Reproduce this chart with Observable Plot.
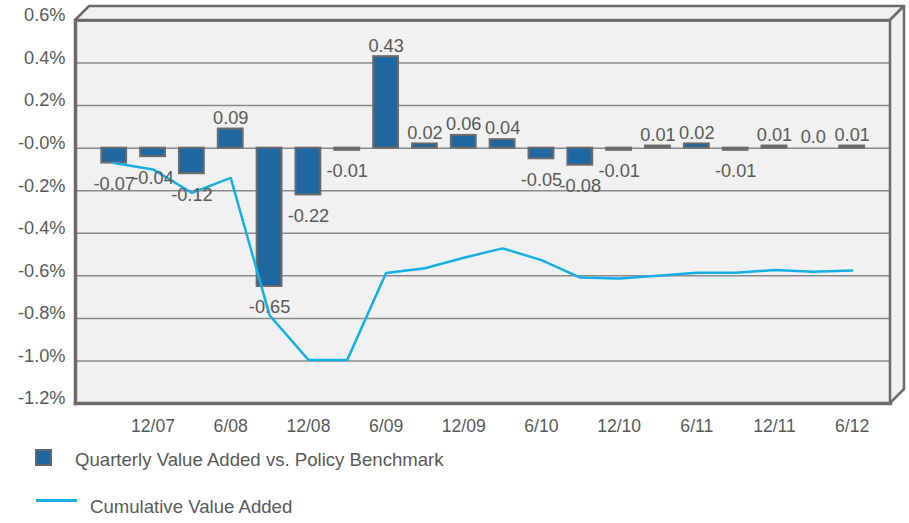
<!DOCTYPE html>
<html>
<head>
<meta charset="utf-8">
<script src="https://cdn.jsdelivr.net/npm/d3@7"></script>
<script src="https://cdn.jsdelivr.net/npm/@observablehq/plot@0.6"></script>
<style>
  body { margin: 0; background: #fff; font-family: "Liberation Sans", Arial, sans-serif; }
  #wrap { position: relative; width: 909px; height: 523px; }
  .lg { position: absolute; color: #595959; font-size: 18.6px; line-height: 22px; white-space: nowrap; }
  .sw-bar { position: absolute; box-sizing: border-box; background: #1f67a0; border: 2px solid #666; }
  .sw-line { position: absolute; background: #14afe3; }
</style>
</head>
<body>
<div id="wrap"></div>
<script>
// Quarter ends, September 2007 through June 2012
const quarters = ["9/07","12/07","3/08","6/08","9/08","12/08","3/09","6/09","9/09","12/09",
                  "3/10","6/10","9/10","12/10","3/11","6/11","9/11","12/11","3/12","6/12"];
// Quarterly value added vs. policy benchmark (%)
const quarterly = [-0.07,-0.04,-0.12,0.09,-0.65,-0.22,-0.01,0.43,0.02,0.06,
                   0.04,-0.05,-0.08,-0.01,0.01,0.02,-0.01,0.01,0.0,0.01];
// Cumulative value added (%)
const cumulative = [-0.07,-0.10,-0.21,-0.14,-0.785,-0.995,-0.995,-0.587,-0.564,-0.515,
                    -0.471,-0.526,-0.608,-0.612,-0.60,-0.585,-0.585,-0.573,-0.581,-0.575];
// Labelled quarters on the horizontal axis
const xTickLabels = ["12/07","6/08","12/08","6/09","12/09","6/10","12/10","6/11","12/11","6/12"];
// Vertical axis ticks and their labels
const yTicks = [0.6,0.4,0.2,0,-0.2,-0.4,-0.6,-0.8,-1.0,-1.2];
const yTickLabels = ["0.6%","0.4%","0.2%","-0.0%","-0.2%","-0.4%","-0.6%","-0.8%","-1.0%","-1.2%"];

const legendBars = "Quarterly Value Added vs. Policy Benchmark";
const legendLine = "Cumulative Value Added";

const rows = quarters.map((q, i) => ({q, v: quarterly[i], c: cumulative[i]}));
const fmt = v => v === 0 ? "0.0" : String(v);

const BAR = "#1f67a0", EDGE = "#6b6b6b", LINE = "#14afe3", TEXT = "#595959", BG = "#f1f1f1";
const depth = 14;

// Top and right faces of the box drawn around the plot area
const box3d = (index, scales, values, dim) => {
  const x0 = dim.marginLeft, x1 = dim.width - dim.marginRight;
  const y0 = dim.marginTop, y1 = dim.height - dim.marginBottom;
  const g = d3.create("svg:g")
    .attr("fill", BG).attr("stroke", EDGE).attr("stroke-width", 2.5).attr("stroke-linejoin", "round");
  g.append("path").attr("d", `M${x0},${y0}L${x0 + depth},${y0 - depth}L${x1 + depth},${y0 - depth}L${x1},${y0}Z`);
  g.append("path").attr("d", `M${x1},${y0}L${x1 + depth},${y0 - depth}L${x1 + depth},${y1 - depth}L${x1},${y1}Z`);
  return g.node();
};

const chart = Plot.plot({
  width: 909,
  height: 440,
  marginLeft: 75,
  marginRight: 19,
  marginTop: 20,
  marginBottom: 37,
  style: {fontFamily: "'Liberation Sans', Arial, sans-serif", fontSize: "17.5px", color: TEXT, background: "transparent"},
  x: {type: "band", domain: quarters, range: [87.3, 878.1], padding: 0.36, round: false, label: null},
  y: {domain: [-1.2, 0.6], label: null},
  marks: [
    Plot.frame({fill: BG, stroke: null}),
    Plot.ruleY(yTicks, {stroke: "#8a8a8a", strokeWidth: 1.5}),
    Plot.barY(rows, {x: "q", y: "v", fill: BAR, stroke: EDGE, strokeWidth: 2}),
    Plot.line(rows, {x: "q", y: "c", stroke: LINE, strokeWidth: 2.5}),
    Plot.text(rows.filter(d => d.v >= 0), {x: "q", y: "v", text: d => fmt(d.v), dy: -11, fill: TEXT, fontSize: 18.2}),
    Plot.text(rows.filter(d => d.v < 0), {x: "q", y: "v", text: d => fmt(d.v), dy: 21, fill: TEXT, fontSize: 18.2}),
    Plot.frame({stroke: EDGE, strokeWidth: 2.5}),
    Plot.frame({anchor: "left", stroke: EDGE, strokeWidth: 3.5}),
    Plot.frame({anchor: "bottom", stroke: EDGE, strokeWidth: 3.5}),
    box3d,
    Plot.axisY(yTicks, {tickSize: 0, tickPadding: 10, dy: -5, fill: TEXT, label: null, fontSize: 18.2,
      tickFormat: d => yTickLabels[yTicks.indexOf(d)]}),
    Plot.axisX(xTickLabels, {tickSize: 0, tickPadding: 16, fill: TEXT, label: null, fontSize: 17.6})
  ]
});

const wrap = document.getElementById("wrap");
wrap.appendChild(chart);
chart.style.overflow = "visible";

// Legend below the chart
wrap.insertAdjacentHTML("beforeend", `
  <div class="sw-bar" style="left:35px;top:449px;width:17px;height:17px"></div>
  <div class="lg" style="left:75px;top:449px">${legendBars}</div>
  <div class="sw-line" style="left:36px;top:499px;width:41px;height:2.5px"></div>
  <div class="lg" style="left:90px;top:496px">${legendLine}</div>
`);
</script>
</body>
</html>
